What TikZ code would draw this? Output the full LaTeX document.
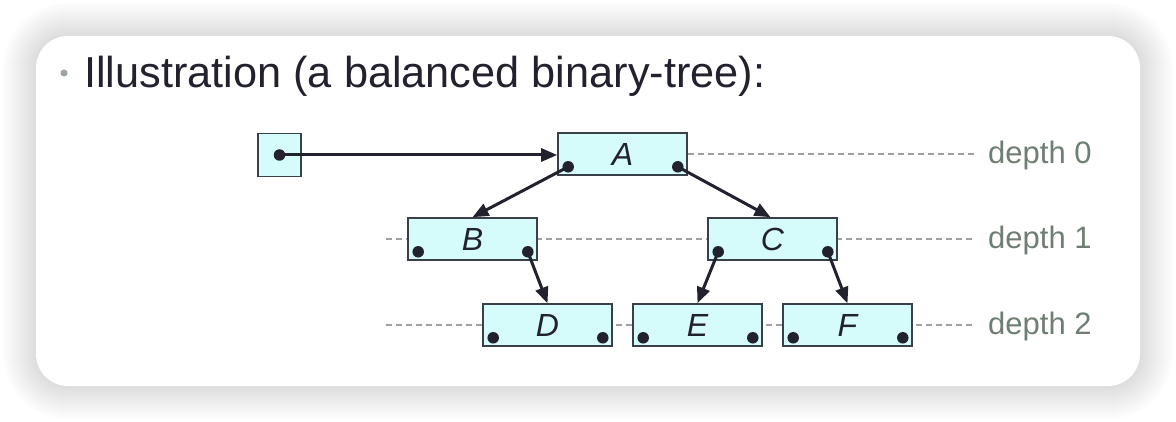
\documentclass[tikz,border=0pt]{standalone}
\usepackage{fontspec}
\setmainfont{Liberation Sans}
\usetikzlibrary{arrows.meta,calc}
\definecolor{boxfill}{HTML}{D6FBFB}
\definecolor{boxdraw}{HTML}{3A4048}
\definecolor{ink}{HTML}{22222E}
\definecolor{depthcol}{HTML}{6F7E72}
\definecolor{dashcol}{HTML}{A0A0A0}
\definecolor{bulletcol}{HTML}{9AA39C}
\pgfdeclarelayer{bg}
\pgfdeclarelayer{lines}
\pgfsetlayers{bg,lines,main}
\tikzset{
  treebox/.style={draw=boxdraw, line width=1.6pt, fill=boxfill, minimum width=129pt, minimum height=42pt, inner sep=0pt, text=ink, font=\itshape\fontsize{32}{36}\selectfont},
  ptrbox/.style={draw=boxdraw, line width=1.6pt, fill=boxfill, minimum width=43pt, minimum height=43pt, inner sep=0pt},
  ptr/.style={line width=3pt, draw=ink, -{Triangle[length=16pt,width=13pt]}},
  dotmark/.style={circle, fill=ink, inner sep=0pt, minimum size=11.5pt},
  depthline/.style={draw=dashcol, line width=1.1pt, dash pattern=on 6pt off 4pt},
  depthlabel/.style={anchor=west, text=depthcol, font=\fontsize{31}{36}\selectfont, inner sep=0pt}
}
\begin{document}
\begin{tikzpicture}[x=1pt,y=-1pt]
\useasboundingbox (0,0) rectangle (1176,422);
% card with soft shadow
\begin{pgfonlayer}{bg}
\foreach \i in {34,33,...,1}{
  \fill[black, opacity=0.0042, rounded corners=32pt+\i pt] (36-\i,36-\i) rectangle (1140+\i,386+\i);
}
\fill[white, rounded corners=32pt] (36,36) rectangle (1140,386);
\end{pgfonlayer}
% title
\node[circle, fill=bulletcol, inner sep=0pt, minimum size=7pt] (bullet) at (64,73) {};
\node[anchor=base west, inner sep=0pt, text=ink, font=\fontsize{43.3}{50}\selectfont] (title) at (84,88) {Illustration (a balanced binary-tree):};
% boxes
\node[ptrbox] (P) at (279.5,155) {};
\node[treebox] (A) at (622.5,154) {A};
\node[treebox] (B) at (472.5,239) {B};
\node[treebox] (C) at (772.5,239) {C};
\node[treebox] (D) at (547.5,325) {D};
\node[treebox] (E) at (697.5,325) {E};
\node[treebox] (F) at (847.5,325) {F};
% dots
\node[dotmark] (Pd) at (P.center) {};
\foreach \n in {A,B,C,D,E,F}{
  \node[dotmark] (\n-l) at ([shift={(11,-9)}]\n.south west) {};
  \node[dotmark] (\n-r) at ([shift={(-10,-9)}]\n.south east) {};
}
% depth lines
\coordinate (d0r) at (975,154);
\coordinate (d1l) at (386,239);
\coordinate (d1r) at (975,239);
\coordinate (d2l) at (386,325);
\coordinate (d2r) at (975,325);
\begin{pgfonlayer}{lines}
\draw[depthline] (A.east) -- (d0r);
\draw[depthline] (d1l) -- (d1r);
\draw[depthline] (d2l) -- (d2r);
\end{pgfonlayer}
\node[depthlabel] (L0) at ([xshift=13pt,yshift=-1pt]d0r) {depth 0};
\node[depthlabel] (L1) at ([xshift=13pt,yshift=-1pt]d1r) {depth 1};
\node[depthlabel] (L2) at ([xshift=13pt,yshift=-1pt]d2r) {depth 2};
% pointers
\draw[ptr] (Pd.center) -- (Pd.center -| A.west);
\draw[ptr] (A-l.center) -- (B.north);
\draw[ptr] (A-r.center) -- ([xshift=-2pt]C.north);
\draw[ptr] (B-r.center) -- (D.north);
\draw[ptr] (C-l.center) -- (E.north);
\draw[ptr] (C-r.center) -- (F.north);
\end{tikzpicture}
\end{document}
